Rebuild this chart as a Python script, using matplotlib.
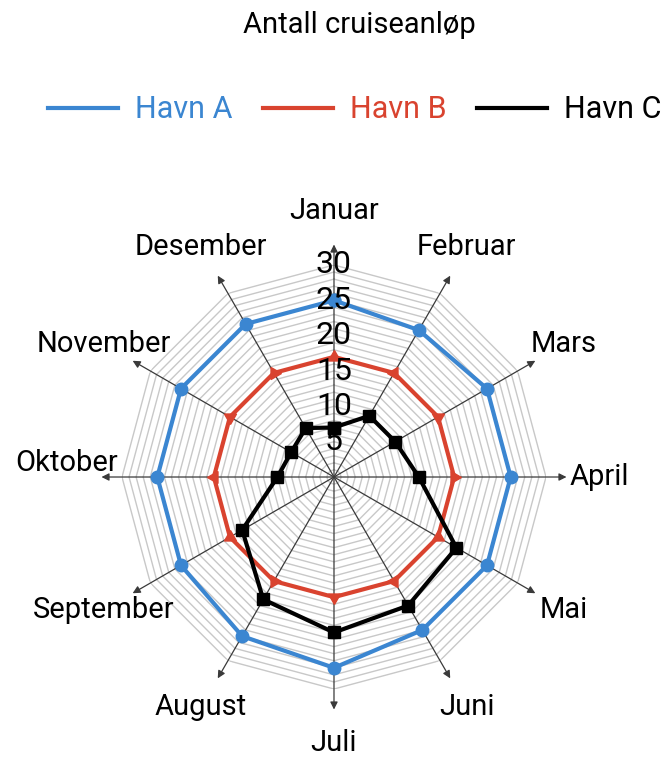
import numpy as np
import matplotlib.pyplot as plt

plt.rcParams['font.family'] = ['Roboto', 'DejaVu Sans']

months = ["Januar", "Februar", "Mars", "April", "Mai", "Juni",
          "Juli", "August", "September", "Oktober", "November", "Desember"]
havn_a = [25, 24, 25, 25, 25, 25, 27, 26, 25, 25, 25, 25]
havn_b = [17, 17, 17, 17, 17, 17, 17, 17, 17, 17, 17, 17]
havn_c = [7, 10, 10, 12, 20, 21, 22, 20, 15, 8, 7, 8]
tick_vals = [5, 10, 15, 20, 25, 30]

blue = "#3b86d1"
red = "#d9432f"
black = "#000000"

n = len(months)
theta = np.arange(n) * 2 * np.pi / n
closed = np.append(theta, theta[0])

fig = plt.figure(figsize=(6.64, 7.58), dpi=100)
ax = fig.add_axes([0.1837, 0.0910, 0.6386, 0.5594], projection='polar')
ax.set_theta_zero_location('N')
ax.set_theta_direction(-1)
ax.set_ylim(0, 30)
ax.grid(False)
ax.set_xticks([])
ax.set_yticks([])
ax.spines['polar'].set_visible(False)
ax.patch.set_alpha(0)

# polygon rings every unit
for r in range(1, 31):
    ax.plot(closed, [r] * (n + 1), color="#c8c8c8", lw=1.0, zorder=1)

# spokes with arrows
for th in theta:
    ax.annotate('', xy=(th, 32.9), xytext=(th, 0), annotation_clip=False,
                arrowprops=dict(arrowstyle='-|>', color='#3a3a3a', lw=0.9,
                                mutation_scale=11, shrinkA=0, shrinkB=0),
                zorder=2)

def close(v):
    return list(v) + [v[0]]

ax.plot(closed, close(havn_a), color=blue, lw=3, marker='o', ms=9,
        zorder=4, clip_on=False)
ax.plot(closed, close(havn_b), color=red, lw=3, zorder=5, clip_on=False)
for th, v in zip(theta, havn_b):
    ax.plot([th], [v], linestyle='none', color=red, ms=10,
            marker=(3, 0, -np.degrees(th)), zorder=5, clip_on=False)
ax.plot(closed, close(havn_c), color=black, lw=3, marker='s', ms=8,
        zorder=6, clip_on=False)

for v in tick_vals:
    ax.text(0, v, str(v), ha='center', va='center', fontsize=23,
            zorder=10)

# small nudges so labels sit like the original
nudge = {"Oktober": (-2, 14)}
for th, m in zip(theta, months):
    ax.annotate(m, xy=(th, 37.6), xytext=nudge.get(m, (0, 0)),
                textcoords='offset pixels', ha='center', va='center',
                fontsize=21, annotation_clip=False)

fig.text(0.541, 0.967, "Antall cruiseanløp", ha='center', va='center',
         fontsize=21)

handles = [plt.Line2D([], [], color=c, lw=3) for c in (blue, red, black)]
leg = fig.legend(handles, ["Havn A", "Havn B", "Havn C"], loc='center',
                 bbox_to_anchor=(0.534, 0.855), ncol=3, frameon=False,
                 fontsize=22, handlelength=2.3, handletextpad=0.55,
                 columnspacing=1.0)
for txt, c in zip(leg.get_texts(), (blue, red, black)):
    txt.set_color(c)

fig.savefig("out.png", dpi=100)
